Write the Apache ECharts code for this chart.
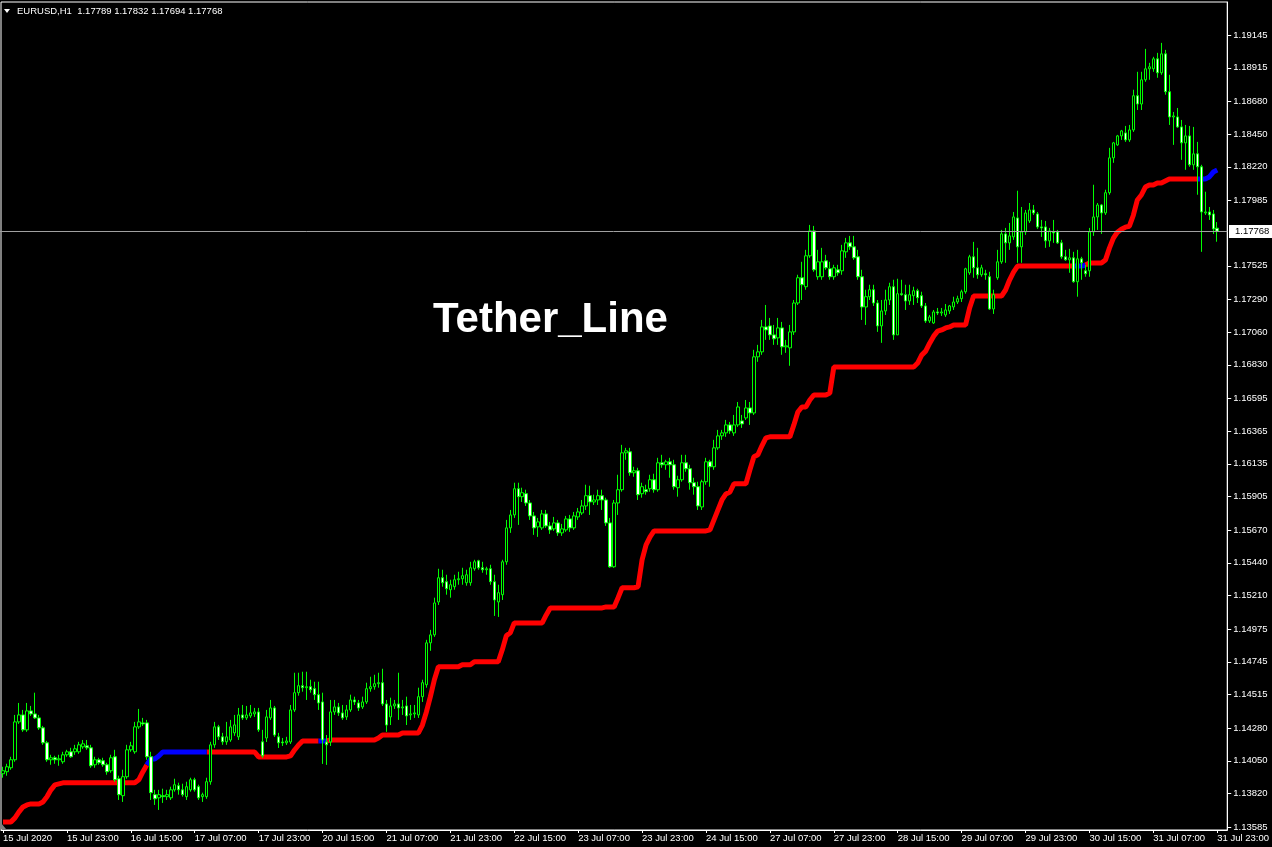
<!DOCTYPE html>
<html>
<head>
<meta charset="utf-8">
<script src="https://cdn.jsdelivr.net/npm/echarts@6/dist/echarts.min.js"></script>
<style>
html,body{margin:0;padding:0;background:#000;}
#chart{width:1272px;height:847px;}
</style>
</head>
<body>
<div id="chart"></div>
<script>
// ---- Data (EURUSD H1, 15 Jul 07:00 .. 31 Jul 23:00, 2020) ----
const symbol = 'EURUSD';
const timeframe = 'H1';
const indicatorName = 'Tether_Line';

const xTickLabels = ['15 Jul 2020','15 Jul 23:00','16 Jul 15:00','17 Jul 07:00','17 Jul 23:00','20 Jul 15:00','21 Jul 07:00','21 Jul 23:00','22 Jul 15:00','23 Jul 07:00','23 Jul 23:00','24 Jul 15:00','27 Jul 07:00','27 Jul 23:00','28 Jul 15:00','29 Jul 07:00','29 Jul 23:00','30 Jul 15:00','31 Jul 07:00','31 Jul 23:00'];

const priceTicks = [1.13585,1.13820,1.14050,1.14280,1.14515,1.14745,1.14975,1.15210,1.15440,1.15670,1.15905,1.16135,1.16365,1.16595,1.16830,1.17060,1.17290,1.17525,1.17985,1.18220,1.18450,1.18680,1.18915,1.19145];

const opens = [
1.13959,1.13973,1.14001,1.14057,1.14323,1.14372,1.14267,1.14400,1.14379,1.14351,
1.14281,1.14176,1.14057,1.14071,1.14057,1.14043,1.14092,1.14113,1.14113,1.14113,
1.14148,1.14155,1.14141,1.14022,1.14057,1.14050,1.14022,1.13980,1.14078,1.13924,
1.13805,1.13938,1.14127,1.14113,1.14288,1.14316,1.14316,1.14078,1.13812,1.13790,
1.13805,1.13798,1.13790,1.13846,1.13875,1.13846,1.13798,1.13846,1.13917,1.13868,
1.13798,1.13798,1.13903,1.14162,1.14288,1.14218,1.14183,1.14196,1.14246,1.14218,
1.14372,1.14351,1.14365,1.14379,1.14393,1.14183,1.14210,1.14351,1.14421,1.14218,
1.14182,1.14176,1.14182,1.14407,1.14528,1.14577,1.14563,1.14570,1.14556,1.14514,
1.14463,1.14182,1.14182,1.14393,1.14428,1.14386,1.14358,1.14407,1.14477,1.14456,
1.14428,1.14463,1.14556,1.14570,1.14591,1.14598,1.14449,1.14358,1.14435,1.14449,
1.14421,1.14435,1.14372,1.14379,1.14372,1.14500,1.14584,1.14878,1.14934,1.15165,
1.15335,1.15307,1.15251,1.15272,1.15321,1.15328,1.15300,1.15300,1.15398,1.15454,
1.15405,1.15391,1.15398,1.15307,1.15165,1.15216,1.15447,1.15685,1.15776,1.15960,
1.15904,1.15925,1.15860,1.15769,1.15692,1.15685,1.15783,1.15699,1.15678,1.15720,
1.15650,1.15671,1.15748,1.15685,1.15762,1.15790,1.15839,1.15911,1.15867,1.15881,
1.15911,1.15881,1.15720,1.15412,1.15860,1.15953,1.16212,1.16219,1.16072,1.16086,
1.15925,1.15953,1.15960,1.16023,1.15953,1.16142,1.16128,1.16149,1.16128,1.15967,
1.16023,1.16142,1.16100,1.16002,1.15974,1.15832,1.16009,1.16149,1.16114,1.16247,
1.16331,1.16352,1.16408,1.16352,1.16408,1.16436,1.16457,1.16527,1.16492,1.16886,
1.16921,1.17096,1.17103,1.17040,1.17019,1.17089,1.16956,1.16949,1.17061,1.17264,
1.17441,1.17378,1.17595,1.17770,1.17448,1.17448,1.17560,1.17504,1.17448,1.17497,
1.17490,1.17623,1.17686,1.17658,1.17588,1.17448,1.17236,1.17308,1.17357,1.17264,
1.17103,1.17208,1.17285,1.17378,1.17040,1.17329,1.17322,1.17278,1.17315,1.17350,
1.17315,1.17243,1.17138,1.17124,1.17201,1.17194,1.17180,1.17208,1.17236,1.17271,
1.17294,1.17343,1.17476,1.17588,1.17511,1.17462,1.17469,1.17448,1.17222,1.17441,
1.17553,1.17749,1.17686,1.17728,1.17861,1.17658,1.17763,1.17840,1.17917,1.17889,
1.17798,1.17798,1.17700,1.17763,1.17763,1.17686,1.17588,1.17567,1.17581,1.17413,
1.17574,1.17490,1.17490,1.17763,1.17868,1.17952,1.17896,1.18038,1.18283,1.18374,
1.18437,1.18458,1.18409,1.18479,1.18719,1.18661,1.18831,1.18908,1.18908,1.18978,
1.18880,1.19013,1.18747,1.18570,1.18570,1.18500,1.18388,1.18437,1.18234,1.18311,
1.18220,1.17896,1.17903,1.17889,1.17789
];

const highs = [
1.14008,1.14029,1.14078,1.14372,1.14456,1.14407,1.14456,1.14435,1.14528,1.14372,
1.14295,1.14190,1.14092,1.14085,1.14092,1.14113,1.14127,1.14141,1.14162,1.14183,
1.14196,1.14196,1.14162,1.14078,1.14071,1.14071,1.14036,1.14092,1.14127,1.13945,
1.13987,1.14162,1.14183,1.14323,1.14414,1.14351,1.14337,1.14113,1.13846,1.13846,
1.13854,1.13846,1.13868,1.13924,1.13896,1.13889,1.13903,1.13931,1.13931,1.13882,
1.13826,1.13931,1.14183,1.14323,1.14302,1.14246,1.14323,1.14337,1.14372,1.14421,
1.14442,1.14435,1.14442,1.14421,1.14421,1.14267,1.14407,1.14477,1.14435,1.14246,
1.14210,1.14218,1.14442,1.14668,1.14668,1.14675,1.14675,1.14619,1.14605,1.14605,
1.14528,1.14231,1.14477,1.14477,1.14456,1.14442,1.14442,1.14514,1.14500,1.14477,
1.14500,1.14598,1.14640,1.14654,1.14668,1.14696,1.14477,1.14493,1.14477,1.14668,
1.14477,1.14500,1.14442,1.14442,1.14563,1.14619,1.14899,1.14969,1.15195,1.15398,
1.15391,1.15356,1.15321,1.15356,1.15377,1.15405,1.15391,1.15447,1.15461,1.15461,
1.15447,1.15412,1.15426,1.15356,1.15286,1.15461,1.15741,1.15811,1.16002,1.16002,
1.15967,1.15953,1.15881,1.15797,1.15755,1.15811,1.15811,1.15727,1.15762,1.15741,
1.15713,1.15769,1.15776,1.15797,1.15825,1.15881,1.15988,1.15981,1.15918,1.15953,
1.15953,1.15897,1.15755,1.15881,1.16058,1.16268,1.16247,1.16247,1.16114,1.16107,
1.16002,1.15988,1.16058,1.16065,1.16177,1.16198,1.16163,1.16177,1.16163,1.16051,
1.16198,1.16198,1.16128,1.16037,1.16009,1.16023,1.16177,1.16163,1.16303,1.16373,
1.16373,1.16443,1.16429,1.16478,1.16569,1.16478,1.16583,1.16569,1.16935,1.16970,
1.17145,1.17250,1.17159,1.17110,1.17159,1.17131,1.17005,1.17110,1.17285,1.17462,
1.17553,1.17637,1.17812,1.17805,1.17637,1.17651,1.17602,1.17553,1.17532,1.17532,
1.17672,1.17721,1.17735,1.17735,1.17637,1.17497,1.17357,1.17392,1.17392,1.17285,
1.17285,1.17357,1.17406,1.17427,1.17434,1.17427,1.17392,1.17392,1.17378,1.17364,
1.17343,1.17264,1.17180,1.17215,1.17229,1.17229,1.17257,1.17250,1.17308,1.17315,
1.17357,1.17511,1.17602,1.17693,1.17651,1.17532,1.17497,1.17483,1.17357,1.17637,
1.17777,1.17791,1.17826,1.17903,1.18052,1.17938,1.17917,1.17966,1.17952,1.17903,
1.17847,1.17840,1.17791,1.17847,1.17777,1.17707,1.17637,1.17644,1.17623,1.17637,
1.17588,1.17532,1.17791,1.18094,1.17966,1.17959,1.18059,1.18353,1.18395,1.18444,
1.18479,1.18507,1.18514,1.18761,1.18887,1.18887,1.19048,1.18950,1.18992,1.19020,
1.19090,1.19041,1.18866,1.18605,1.18633,1.18549,1.18514,1.18507,1.18500,1.18395,
1.18234,1.18045,1.17938,1.17917,1.17832
];

const lows = [
1.13931,1.13945,1.13987,1.14043,1.14309,1.14253,1.14253,1.14365,1.14344,1.14267,
1.14162,1.14043,1.14022,1.14029,1.14015,1.14029,1.14078,1.14071,1.14092,1.14099,
1.14134,1.14127,1.14001,1.14001,1.14022,1.14008,1.13952,1.13966,1.13903,1.13775,
1.13761,1.13924,1.14113,1.14099,1.14274,1.14295,1.14057,1.13775,1.13740,1.13705,
1.13754,1.13775,1.13775,1.13833,1.13812,1.13798,1.13775,1.13833,1.13833,1.13775,
1.13761,1.13783,1.13882,1.14141,1.14196,1.14162,1.14162,1.14183,1.14225,1.14196,
1.14337,1.14337,1.14351,1.14358,1.14253,1.14071,1.14182,1.14337,1.14218,1.14140,
1.14154,1.14161,1.14168,1.14393,1.14507,1.14535,1.14477,1.14528,1.14477,1.14407,
1.14028,1.14021,1.14154,1.14372,1.14365,1.14337,1.14337,1.14393,1.14442,1.14400,
1.14414,1.14449,1.14535,1.14549,1.14563,1.14435,1.14253,1.14301,1.14414,1.14337,
1.14372,1.14301,1.14337,1.14351,1.14351,1.14463,1.14563,1.14822,1.14920,1.15144,
1.15272,1.15216,1.15195,1.15251,1.15286,1.15286,1.15279,1.15279,1.15384,1.15391,
1.15370,1.15356,1.15286,1.15067,1.15060,1.15179,1.15426,1.15650,1.15755,1.15706,
1.15867,1.15839,1.15741,1.15636,1.15622,1.15671,1.15685,1.15643,1.15664,1.15629,
1.15629,1.15657,1.15657,1.15671,1.15741,1.15776,1.15811,1.15776,1.15846,1.15846,
1.15811,1.15699,1.15405,1.15405,1.15776,1.15939,1.16163,1.16051,1.16044,1.15881,
1.15897,1.15918,1.15939,1.15932,1.15939,1.16107,1.16093,1.16037,1.15953,1.15904,
1.16009,1.16079,1.15953,1.15918,1.15811,1.15811,1.15988,1.15974,1.16093,1.16233,
1.16303,1.16324,1.16345,1.16331,1.16394,1.16387,1.16443,1.16408,1.16478,1.16851,
1.16900,1.17005,1.17005,1.16970,1.16970,1.16900,1.16914,1.16823,1.17040,1.17250,
1.17285,1.17357,1.17581,1.17483,1.17427,1.17427,1.17497,1.17427,1.17427,1.17455,
1.17462,1.17581,1.17637,1.17567,1.17427,1.17145,1.17110,1.17285,1.17243,1.17061,
1.16984,1.17180,1.17250,1.17005,1.17040,1.17315,1.17215,1.17250,1.17250,1.17264,
1.17229,1.17124,1.17124,1.17117,1.17180,1.17173,1.17166,1.17187,1.17215,1.17257,
1.17271,1.17329,1.17462,1.17441,1.17434,1.17448,1.17427,1.17215,1.17187,1.17427,
1.17539,1.17546,1.17637,1.17707,1.17546,1.17546,1.17742,1.17826,1.17882,1.17784,
1.17728,1.17651,1.17658,1.17686,1.17679,1.17574,1.17560,1.17476,1.17406,1.17308,
1.17427,1.17448,1.17448,1.17735,1.17777,1.17749,1.17882,1.18024,1.18248,1.18367,
1.18409,1.18395,1.18395,1.18465,1.18619,1.18619,1.18817,1.18831,1.18887,1.18845,
1.18866,1.18726,1.18514,1.18374,1.18493,1.18269,1.18199,1.18220,1.18199,1.18024,
1.17623,1.17882,1.17847,1.17749,1.17694
];

const closes = [
1.13980,1.14008,1.14057,1.14323,1.14372,1.14267,1.14400,1.14379,1.14351,1.14281,
1.14176,1.14057,1.14071,1.14057,1.14064,1.14092,1.14113,1.14078,1.14134,1.14162,
1.14169,1.14141,1.14015,1.14057,1.14036,1.14022,1.13973,1.14071,1.13917,1.13812,
1.13938,1.14127,1.14155,1.14288,1.14323,1.14309,1.14078,1.13826,1.13783,1.13812,
1.13798,1.13812,1.13846,1.13882,1.13846,1.13812,1.13868,1.13917,1.13846,1.13790,
1.13812,1.13903,1.14162,1.14288,1.14218,1.14183,1.14218,1.14288,1.14302,1.14372,
1.14351,1.14372,1.14386,1.14393,1.14267,1.14085,1.14358,1.14421,1.14231,1.14176,
1.14176,1.14189,1.14407,1.14528,1.14577,1.14563,1.14570,1.14549,1.14514,1.14456,
1.14196,1.14162,1.14393,1.14428,1.14386,1.14351,1.14407,1.14477,1.14463,1.14421,
1.14463,1.14556,1.14570,1.14591,1.14598,1.14449,1.14301,1.14435,1.14449,1.14421,
1.14428,1.14365,1.14379,1.14386,1.14500,1.14598,1.14878,1.14934,1.15158,1.15335,
1.15300,1.15258,1.15286,1.15321,1.15328,1.15349,1.15356,1.15405,1.15447,1.15405,
1.15391,1.15398,1.15307,1.15179,1.15230,1.15447,1.15685,1.15776,1.15960,1.15904,
1.15932,1.15860,1.15769,1.15685,1.15727,1.15783,1.15699,1.15671,1.15720,1.15650,
1.15678,1.15748,1.15685,1.15769,1.15797,1.15839,1.15911,1.15867,1.15881,1.15911,
1.15881,1.15720,1.15412,1.15860,1.15953,1.16212,1.16226,1.16072,1.16086,1.15918,
1.15974,1.15939,1.16023,1.15953,1.16142,1.16128,1.16149,1.16128,1.15974,1.16023,
1.16142,1.16100,1.16002,1.15974,1.15839,1.16009,1.16149,1.16114,1.16247,1.16331,
1.16352,1.16408,1.16366,1.16408,1.16534,1.16415,1.16527,1.16492,1.16886,1.16921,
1.17096,1.17075,1.17040,1.17012,1.17089,1.16956,1.16963,1.17061,1.17264,1.17441,
1.17392,1.17595,1.17770,1.17497,1.17553,1.17553,1.17511,1.17448,1.17511,1.17476,
1.17630,1.17686,1.17658,1.17581,1.17448,1.17236,1.17308,1.17357,1.17264,1.17103,
1.17208,1.17285,1.17378,1.17040,1.17329,1.17322,1.17278,1.17322,1.17350,1.17301,
1.17243,1.17138,1.17166,1.17201,1.17194,1.17201,1.17215,1.17243,1.17271,1.17294,
1.17343,1.17504,1.17588,1.17511,1.17462,1.17511,1.17462,1.17222,1.17322,1.17553,
1.17749,1.17686,1.17735,1.17868,1.17658,1.17763,1.17896,1.17917,1.17896,1.17798,
1.17791,1.17700,1.17770,1.17756,1.17686,1.17588,1.17567,1.17581,1.17413,1.17574,
1.17546,1.17469,1.17763,1.17868,1.17952,1.17896,1.18038,1.18283,1.18388,1.18437,
1.18472,1.18409,1.18479,1.18719,1.18661,1.18831,1.18908,1.18922,1.18978,1.18880,
1.19013,1.18747,1.18570,1.18577,1.18500,1.18388,1.18437,1.18234,1.18311,1.18220,
1.17903,1.17903,1.17882,1.17784,1.17768
];

// Tether_Line indicator value per bar
const tetherLine = [
1.13621,1.13621,1.13621,1.13649,1.13691,1.13726,1.13740,1.13747,1.13747,1.13747,
1.13761,1.13797,1.13846,1.13881,1.13888,1.13895,1.13895,1.13895,1.13895,1.13895,
1.13895,1.13895,1.13895,1.13895,1.13895,1.13895,1.13895,1.13895,1.13895,1.13895,
1.13895,1.13895,1.13895,1.13895,1.13916,1.13972,1.14021,1.14063,1.14063,1.14084,
1.14112,1.14112,1.14112,1.14112,1.14112,1.14112,1.14112,1.14112,1.14112,1.14112,
1.14112,1.14112,1.14112,1.14112,1.14112,1.14112,1.14112,1.14112,1.14112,1.14112,
1.14112,1.14112,1.14112,1.14112,1.14077,1.14077,1.14077,1.14077,1.14077,1.14077,
1.14077,1.14077,1.14084,1.14126,1.14161,1.14189,1.14189,1.14189,1.14189,1.14189,
1.14189,1.14189,1.14196,1.14196,1.14196,1.14196,1.14196,1.14196,1.14196,1.14196,
1.14196,1.14196,1.14196,1.14196,1.14210,1.14231,1.14231,1.14231,1.14231,1.14231,
1.14245,1.14245,1.14245,1.14245,1.14245,1.14301,1.14393,1.14500,1.14619,1.14710,
1.14710,1.14710,1.14710,1.14710,1.14710,1.14724,1.14724,1.14724,1.14745,1.14745,
1.14745,1.14745,1.14745,1.14745,1.14745,1.14829,1.14927,1.14948,1.15018,1.15018,
1.15018,1.15018,1.15018,1.15018,1.15018,1.15018,1.15074,1.15123,1.15123,1.15123,
1.15123,1.15123,1.15123,1.15123,1.15123,1.15123,1.15123,1.15123,1.15123,1.15123,
1.15123,1.15130,1.15130,1.15130,1.15195,1.15265,1.15265,1.15265,1.15265,1.15272,
1.15461,1.15566,1.15622,1.15664,1.15664,1.15664,1.15664,1.15664,1.15664,1.15664,
1.15664,1.15664,1.15664,1.15664,1.15664,1.15664,1.15664,1.15671,1.15741,1.15811,
1.15881,1.15923,1.15937,1.15995,1.15995,1.15995,1.15995,1.16093,1.16184,1.16198,
1.16261,1.16317,1.16324,1.16324,1.16324,1.16324,1.16324,1.16324,1.16408,1.16499,
1.16534,1.16534,1.16583,1.16618,1.16618,1.16618,1.16618,1.16632,1.16814,1.16814,
1.16814,1.16814,1.16814,1.16814,1.16814,1.16814,1.16814,1.16814,1.16814,1.16814,
1.16814,1.16814,1.16814,1.16814,1.16814,1.16814,1.16814,1.16814,1.16814,1.16842,
1.16898,1.16926,1.16982,1.17031,1.17066,1.17075,1.17089,1.17096,1.17110,1.17110,
1.17110,1.17110,1.17229,1.17313,1.17313,1.17313,1.17313,1.17313,1.17313,1.17313,
1.17313,1.17355,1.17425,1.17481,1.17523,1.17523,1.17523,1.17523,1.17523,1.17523,
1.17523,1.17523,1.17523,1.17523,1.17523,1.17523,1.17523,1.17523,1.17523,1.17523,
1.17523,1.17530,1.17544,1.17544,1.17544,1.17544,1.17565,1.17649,1.17719,1.17761,
1.17782,1.17796,1.17803,1.17880,1.17987,1.18022,1.18078,1.18092,1.18092,1.18106,
1.18106,1.18120,1.18134,1.18134,1.18134,1.18134,1.18134,1.18134,1.18134,1.18134,
1.18134,1.18134,1.18148,1.18183,1.18197
];

// bar index ranges where the line is in its blue state
const blueRanges = [[37,51],[80,81],[269,271],[300,304]];

// ---- Build chart ----
const FONT = '"Liberation Sans", Arial, sans-serif';
const N = opens.length;
const categories = [];
for (let i = 0; i < N + 2; i++) categories.push(String(i));

const isBlue = i => blueRanges.some(r => i >= r[0] && i <= r[1]);
const redData = [], blueData = [];
for (let i = 0; i < N; i++) {
  const b = isBlue(i);
  const nextBlue = i + 1 < N && isBlue(i + 1);
  const prevBlue = i > 0 && isBlue(i - 1);
  // blue segment includes the bar just before it; red resumes from the last blue bar
  blueData.push(b || nextBlue ? tetherLine[i] : null);
  redData.push(!b || (i + 1 < N && !isBlue(i + 1)) ? tetherLine[i] : null);
}
const candles = opens.map((o, i) => [o, closes[i], lows[i], highs[i]]);
const tickShown = (idx) => idx % 16 === 0 && idx < N;

const chart = echarts.init(document.getElementById('chart'), null, {renderer: 'canvas'});
const lastClose = closes[N - 1];

chart.setOption({
  backgroundColor: '#000000',
  animation: false,
  grid: {left: 0, right: 44, top: 2, bottom: 17, show: true, borderColor: '#ffffff', borderWidth: 1, backgroundColor: 'transparent'},
  xAxis: {
    type: 'category', data: categories, boundaryGap: true,
    axisLine: {show: true, lineStyle: {color: '#ffffff', width: 1}},
    axisTick: {show: true, alignWithLabel: true, interval: tickShown, length: 3, lineStyle: {color: '#ffffff'}},
    axisLabel: {interval: tickShown, color: '#ffffff', fontSize: 9.5, fontFamily: FONT, align: 'left', margin: 3,
      formatter: (v) => { const k = Number(v) / 16; return xTickLabels[k] || ''; }},
    splitLine: {show: false}
  },
  yAxis: {
    type: 'value', position: 'right', min: 1.13564, max: 1.19377, scale: true,
    axisLine: {show: true, lineStyle: {color: '#ffffff', width: 1}},
    axisTick: {show: true, inside: false, length: 4, customValues: priceTicks, lineStyle: {color: '#ffffff'}},
    axisLabel: {customValues: priceTicks, color: '#ffffff', fontSize: 9.5, fontFamily: FONT, margin: 6,
      formatter: (v) => Number(v).toFixed(5)},
    splitLine: {show: false}
  },
  series: [
    {type: 'line', name: 'red', data: redData, z: 1, symbol: 'none', connectNulls: false,
     lineStyle: {color: '#ff0000', width: 5, cap: 'butt', join: 'bevel'}, silent: true},
    {type: 'line', name: 'blue', data: blueData, z: 1, symbol: 'none', connectNulls: false,
     lineStyle: {color: '#0000ff', width: 5, cap: 'butt', join: 'bevel'}, silent: true},
    {type: 'candlestick', name: symbol, data: candles, z: 3, barWidth: 3, silent: true,
     itemStyle: {color: '#000000', color0: '#ffffff', borderColor: '#00ff00', borderColor0: '#00ff00', borderColorDoji: '#00ff00', borderWidth: 1}}
  ]
});

const py = Math.round(chart.convertToPixel({yAxisIndex: 0}, lastClose)) + 0.5;
const plotRight = chart.convertToPixel({xAxisIndex: 0}, categories[N + 1]) + 2;
chart.setOption({
  graphic: [
    {type: 'line', shape: {x1: 0, y1: py, x2: plotRight, y2: py}, style: {stroke: '#a0a0a0', lineWidth: 1}, z: 5, silent: true},
    {type: 'polygon', shape: {points: [[4, 9], [10, 9], [7, 13]]}, style: {fill: '#ffffff'}, z: 10},
    {type: 'text', x: 17, y: 11, z: 10, style: {text: symbol + ',' + timeframe + '  ' + opens[N-1].toFixed(5) + ' ' + highs[N-1].toFixed(5) + ' ' + lows[N-1].toFixed(5) + ' ' + closes[N-1].toFixed(5), fill: '#ffffff', font: '9.5px ' + FONT, verticalAlign: 'middle'}},
    {type: 'text', x: 433, y: 320, z: 10, style: {text: indicatorName, fill: '#ffffff', font: 'bold 42px ' + FONT, verticalAlign: 'middle'}},
    {type: 'rect', shape: {x: 1229, y: py - 6.5, width: 43, height: 13}, style: {fill: '#ffffff'}, z: 10},
    {type: 'text', x: 1235, y: py, z: 11, style: {text: lastClose.toFixed(5), fill: '#000000', font: '9.5px ' + FONT, verticalAlign: 'middle'}},
    {type: 'polygon', shape: {points: [[1, 823], [1, 829], [6, 829]]}, style: {fill: '#808080'}, z: 10}
  ]
});
</script>
</body>
</html>
